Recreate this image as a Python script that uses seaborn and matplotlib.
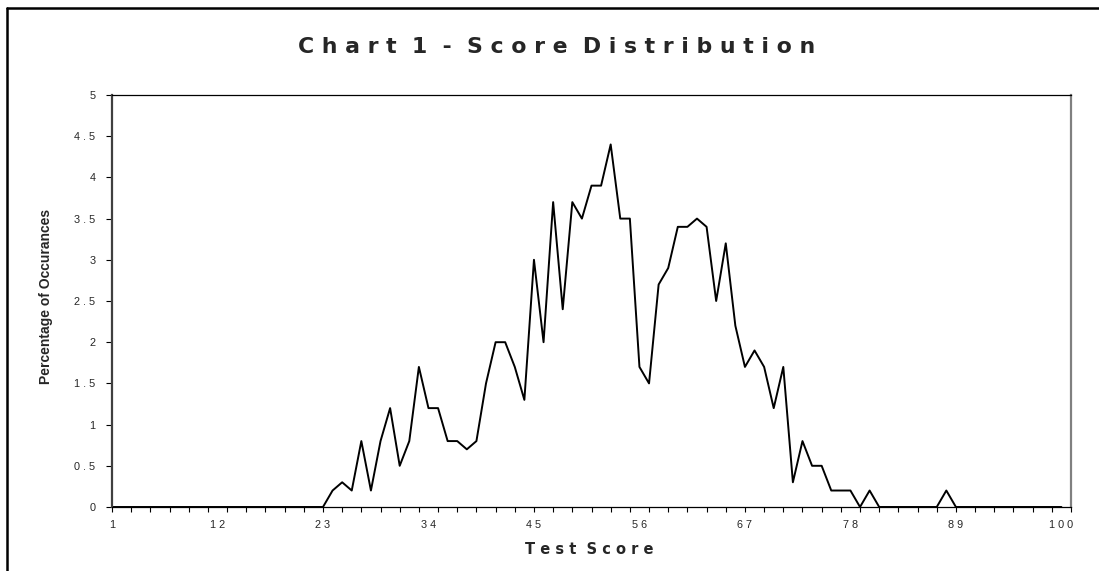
import numpy as np
import pandas as pd
import matplotlib
matplotlib.use("Agg")
import matplotlib.pyplot as plt
from matplotlib.lines import Line2D
import seaborn as sns

# ── DATA ──────────────────────────────────────────────────────────────────────
scores = np.arange(1, 101)
pct = [
    0, 0, 0, 0, 0, 0, 0, 0, 0, 0,
    0, 0, 0, 0, 0, 0, 0, 0, 0, 0,
    0, 0, 0, 0.2, 0.3, 0.2, 0.8, 0.2, 0.8, 1.2,
    0.5, 0.8, 1.7, 1.2, 1.2, 0.8, 0.8, 0.7, 0.8, 1.5,
    2.0, 2.0, 1.7, 1.3, 3.0, 2.0, 3.7, 2.4, 3.7, 3.5,
    3.9, 3.9, 4.4, 3.5, 3.5, 1.7, 1.5, 2.7, 2.9, 3.4,
    3.4, 3.5, 3.4, 2.5, 3.2, 2.2, 1.7, 1.9, 1.7, 1.2,
    1.7, 0.3, 0.8, 0.5, 0.5, 0.2, 0.2, 0.2, 0, 0.2,
    0, 0, 0, 0, 0, 0, 0, 0.2, 0, 0,
    0, 0, 0, 0, 0, 0, 0, 0, 0, 0,
]
x_labels = [1, 12, 23, 34, 45, 56, 67, 78, 89, 100]
y_ticks = [0, 0.5, 1, 1.5, 2, 2.5, 3, 3.5, 4, 4.5, 5]

df = pd.DataFrame({"score": scores, "pct": pct})

# ── STYLE ─────────────────────────────────────────────────────────────────────
sns.set_style("white")
plt.rcParams["font.family"] = ["Liberation Sans", "DejaVu Sans"]


def spaced(s, sep=" "):
    # Excel-style letter spacing
    return sep.join(str(s))


def spaced_words(s):
    return "  ".join(spaced(w) for w in s.split(" "))


W, H = 1099, 571
fig = plt.figure(figsize=(W / 100, H / 100), dpi=100, facecolor="white")
ax = fig.add_axes([112 / W, 1 - 507 / H, (1071 - 112) / W, (507 - 95) / H])

sns.lineplot(data=df, x="score", y="pct", ax=ax, color="black", lw=1.4)

ax.set_xlim(1, 101)
ax.set_ylim(0, 5)

# tick marks every two categories, labels every eleven
ax.xaxis.remove_overlapping_locs = False
ax.set_xticks(range(1, 102, 2))
ax.set_xticklabels([])
ax.set_xticks(x_labels, minor=True)
ax.set_xticklabels([spaced(v) for v in x_labels], minor=True, fontsize=7.8)
ax.tick_params(axis="x", which="major", direction="out", length=3.5,
               width=0.8, color="black", bottom=True)
ax.tick_params(axis="x", which="minor", length=0, pad=9, bottom=True)

ax.set_yticks(y_ticks)
ax.set_yticklabels([spaced(f"{v:g}") for v in y_ticks], fontsize=7.8)
ax.tick_params(axis="y", direction="out", length=4, width=0.8,
               color="black", pad=8, left=True)

ax.spines["left"].set_color("#404040")
ax.spines["left"].set_linewidth(1.6)
ax.spines["right"].set_color("#808080")
ax.spines["right"].set_linewidth(1.6)
ax.spines["top"].set_color("black")
ax.spines["top"].set_linewidth(0.9)
ax.spines["bottom"].set_color("black")
ax.spines["bottom"].set_linewidth(0.9)
ax.grid(False)

ax.set_xlabel("")
ax.set_ylabel("")

# titles
fig.text(557 / W, 1 - 47 / H, spaced_words("Chart 1 - Score Distribution"),
         ha="center", va="center", fontsize=15.8, fontweight="bold",
         family=["DejaVu Sans"])
fig.text(589 / W, 1 - 549 / H, spaced_words("Test Score"),
         ha="center", va="center", fontsize=10.5, fontweight="bold",
         family=["DejaVu Sans"])
fig.text(46 / W, 1 - 296 / H, "Percentage of Occurances", rotation=90,
         ha="center", va="center", fontsize=10, fontweight="bold")

# outer chart frame (left and top edges visible)
fig.add_artist(Line2D([7 / W, 7 / W], [0, 1 - 8 / H], transform=fig.transFigure,
                      color="black", lw=1.8))
fig.add_artist(Line2D([7 / W, 1], [1 - 8 / H, 1 - 8 / H], transform=fig.transFigure,
                      color="black", lw=1.8))

fig.savefig("out.png", dpi=100, facecolor="white")
